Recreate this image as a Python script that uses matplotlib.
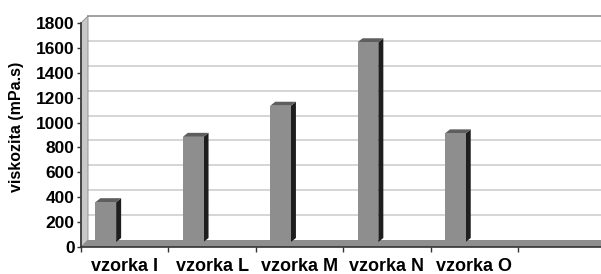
#!/usr/bin/env python3

import numpy as np
import matplotlib
matplotlib.use("Agg")
import matplotlib.pyplot as plt
from matplotlib.patches import Polygon
from matplotlib.transforms import IdentityTransform


# ------------------------------------------------------------
# DATA
# ------------------------------------------------------------

categories = ["vzorka I", "vzorka L", "vzorka M", "vzorka N", "vzorka O"]
viscosity = [320, 845, 1095, 1605, 873]
yticks = list(range(0, 1801, 200))
ylabel = "viskozita (mPa.s)"


# ------------------------------------------------------------
# LAYOUT (pixels)
# ------------------------------------------------------------

W, H, DPI = 601, 274, 100
X0, X1 = 81, 601
Y_TOP, Y_BOT = 23, 247
CAT_W = 87.4
DEPTH = (7, 7)          # back wall offset
BAR_FRONT = (0, 5)      # bar front face offset
BAR_DEPTH = (5, 4)      # bar thickness

FONT = "Liberation Sans"

fig = plt.figure(figsize=(W / DPI, H / DPI), dpi=DPI)
ax = fig.add_axes([X0 / W, (H - Y_BOT) / H, (X1 - X0) / W, (Y_BOT - Y_TOP) / H])
xmax = (X1 - X0) / CAT_W + 0.2
ax.set_xlim(0, (X1 - X0) / CAT_W)
ax.set_ylim(0, 1800)
ax.patch.set_alpha(0)

ident = IdentityTransform()


def pt(x, v, dx=0, dy=0):
    px, py = ax.transData.transform((x, v))
    return (px + dx, py + dy)


def poly(points, color, z, ec="none", lw=0):
    p = Polygon(points, closed=True, facecolor=color, edgecolor=ec, linewidth=lw,
                transform=ident, zorder=z, clip_on=False)
    ax.add_artist(p)


dx, dy = DEPTH

# back wall
poly([pt(0, 0, dx, dy), pt(xmax, 0, dx, dy), pt(xmax, 1800, dx, dy), pt(0, 1800, dx, dy)],
     "white", 0)

# gridlines on the back wall
for v in yticks[1:]:
    a = pt(0, v, dx, dy)
    b = pt(xmax, v, dx, dy)
    col = "#9a9a9a" if v == yticks[-1] else "#d2d2d2"
    ax.add_artist(plt.Line2D([a[0], b[0]], [a[1], b[1]], color=col, lw=1.3,
                             transform=ident, zorder=1, clip_on=False))

# left wall
poly([pt(0, 0), pt(0, 0, dx, dy), pt(0, 1800, dx, dy), pt(0, 1800)], "#c8c8c8", 2,
     ec="#8a8a8a", lw=0.6)

# floor
poly([pt(0, 0), pt(xmax, 0), pt(xmax, 0, dx, dy), pt(0, 0, dx, dy)], "#8e8e8e", 2)

# bars
fx, fy = BAR_FRONT
bx, by = BAR_DEPTH
for i, v in enumerate(viscosity):
    left = i + 0.165
    right = left + 0.237
    poly([pt(right, 0, fx, fy), pt(right, 0, fx + bx, fy + by),
          pt(right, v, fx + bx, fy + by), pt(right, v, fx, fy)], "#1e1e1e", 3)
    poly([pt(left, v, fx, fy), pt(right, v, fx, fy),
          pt(right, v, fx + bx, fy + by), pt(left, v, fx + bx, fy + by)], "#5e5e5e", 3)
    poly([pt(left, 0, fx, fy), pt(right, 0, fx, fy),
          pt(right, v, fx, fy), pt(left, v, fx, fy)], "#8e8e8e", 4)

# axes
for s in ("top", "right"):
    ax.spines[s].set_visible(False)
for s in ("left", "bottom"):
    ax.spines[s].set_color("#333333")
    ax.spines[s].set_linewidth(1.2)
    ax.spines[s].set_zorder(5)

ax.set_yticks(yticks)
ax.set_yticklabels([str(v) for v in yticks], fontsize=12.5, fontweight="bold", family=FONT)
ax.tick_params(axis="y", length=3, width=1, color="#333333", pad=1.5)

ax.set_xticks(np.arange(len(categories) + 1))
ax.set_xticklabels([])
ax.set_xticks(np.arange(len(categories)) + 0.5, minor=True)
ax.set_xticklabels(categories, minor=True, fontsize=13, fontweight="bold", family=FONT)
ax.tick_params(axis="x", which="major", length=3.5, width=1, color="#333333")
ax.tick_params(axis="x", which="minor", length=0, pad=8)

fig.text(17 / W, (H - 126.5) / H, ylabel, rotation=90, ha="center", va="center",
         fontsize=11.5, fontweight="bold", family=FONT)

fig.savefig("out.png", dpi=DPI)
plt.close(fig)
